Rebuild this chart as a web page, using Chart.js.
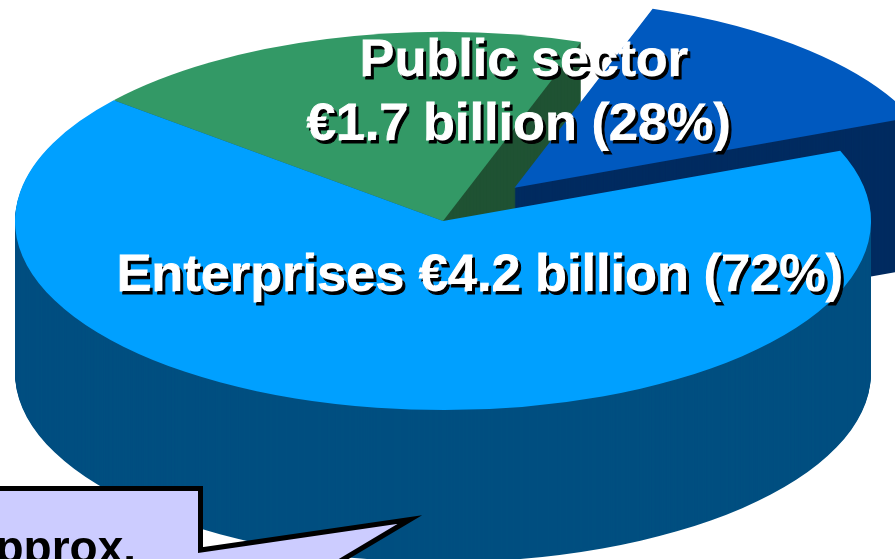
<!DOCTYPE html>
<html>
<head>
<meta charset="utf-8">
<title>Enterprises and public sector</title>
<script src="https://cdn.jsdelivr.net/npm/chart.js@4"></script>
<style>
  html, body { margin: 0; padding: 0; background: #fff; overflow: hidden; }
  canvas { display: block; }
</style>
</head>
<body>
<canvas id="pie" width="895" height="559"></canvas>
<script>
const categories = ['Public sector (green)', 'Public sector (blue)', 'Enterprises'];
const sliceShares = [19.2, 13.7, 67.1];
const sliceLabels = ['Public sector', '€1.7 billion (28%)', 'Enterprises €4.2 billion (72%)'];
const calloutText = 'approx.';

const topColors = ['#339966', '#0059BF', '#00A0FF'];
const sideColors = ['#1F5233', '#002B60', '#004F80'];
const explode = [0, 104, 0];

// fake 3d: pie centre, squash of the y axis and height of the cylinder
const centerX = 443;
const centerY = 221;
const squash = 0.4416;
const depth = 152;

function drawArc(ctx, arc, i, dy, color) {
  const mid = (arc.startAngle + arc.endAngle) / 2;
  const saved = arc.options;
  arc.options = {
    backgroundColor: color, borderColor: color, borderWidth: 0, borderAlign: 'center',
    borderRadius: 0, borderJoinStyle: 'round', borderDash: [], borderDashOffset: 0,
    spacing: 0, offset: 0, circular: true
  };
  ctx.save();
  ctx.translate(centerX, centerY + dy);
  ctx.scale(1, squash);
  ctx.translate(Math.cos(mid) * explode[i], Math.sin(mid) * explode[i]);
  ctx.translate(-arc.x, -arc.y);
  arc.draw(ctx);
  ctx.restore();
  arc.options = saved;
}

function drawCallout(ctx) {
  ctx.save();
  ctx.beginPath();
  ctx.moveTo(-20, 488.5);
  ctx.lineTo(200.5, 488.5);
  ctx.lineTo(200.5, 550);
  ctx.lineTo(410, 519.5);
  ctx.lineTo(300, 585);
  ctx.lineTo(-20, 590);
  ctx.closePath();
  ctx.fillStyle = '#CCCCFF';
  ctx.fill();
  ctx.lineWidth = 5;
  ctx.lineJoin = 'miter';
  ctx.miterLimit = 10;
  ctx.strokeStyle = '#000';
  ctx.stroke();
  ctx.fillStyle = '#000';
  ctx.font = 'bold 46px "Liberation Sans", Arial, sans-serif';
  ctx.textAlign = 'right';
  ctx.fillText(calloutText, 136, 563);
  ctx.restore();
}

function drawLabel(ctx, text, x, y) {
  ctx.strokeText(text, x, y);
  ctx.fillText(text, x, y);
}

function drawLabels(ctx) {
  ctx.save();
  ctx.font = 'bold 52.3px "Liberation Sans", Arial, sans-serif';
  ctx.textAlign = 'center';
  ctx.fillStyle = '#fff';
  ctx.strokeStyle = '#fff';
  ctx.lineWidth = 1;
  ctx.shadowColor = '#000';
  ctx.shadowOffsetX = 2.5;
  ctx.shadowOffsetY = 2.5;
  ctx.shadowBlur = 0;
  drawLabel(ctx, sliceLabels[0], 524, 76);
  drawLabel(ctx, sliceLabels[1], 519, 140);
  drawLabel(ctx, sliceLabels[2], 480, 291);
  ctx.restore();
}

const pie3d = {
  id: 'pie3d',
  // the slices are drawn below, squashed and extruded
  beforeDatasetDraw() { return false; },
  afterDatasetsDraw(chart) {
    const ctx = chart.ctx;
    const arcs = chart.getDatasetMeta(0).data;
    arcs.forEach((arc, i) => {
      for (let dy = depth; dy > 0; dy--) drawArc(ctx, arc, i, dy, sideColors[i]);
      drawArc(ctx, arc, i, 0, topColors[i]);
    });
    drawLabels(ctx);
    drawCallout(ctx);
  }
};

new Chart(document.getElementById('pie'), {
  type: 'pie',
  data: {
    labels: categories,
    datasets: [{
      data: sliceShares,
      backgroundColor: topColors,
      borderWidth: 0,
      radius: 428,
      clip: false
    }]
  },
  options: {
    responsive: false,
    animation: false,
    rotation: -50.3,
    plugins: { legend: { display: false }, tooltip: { enabled: false } }
  },
  plugins: [pie3d]
});
</script>
</body>
</html>
